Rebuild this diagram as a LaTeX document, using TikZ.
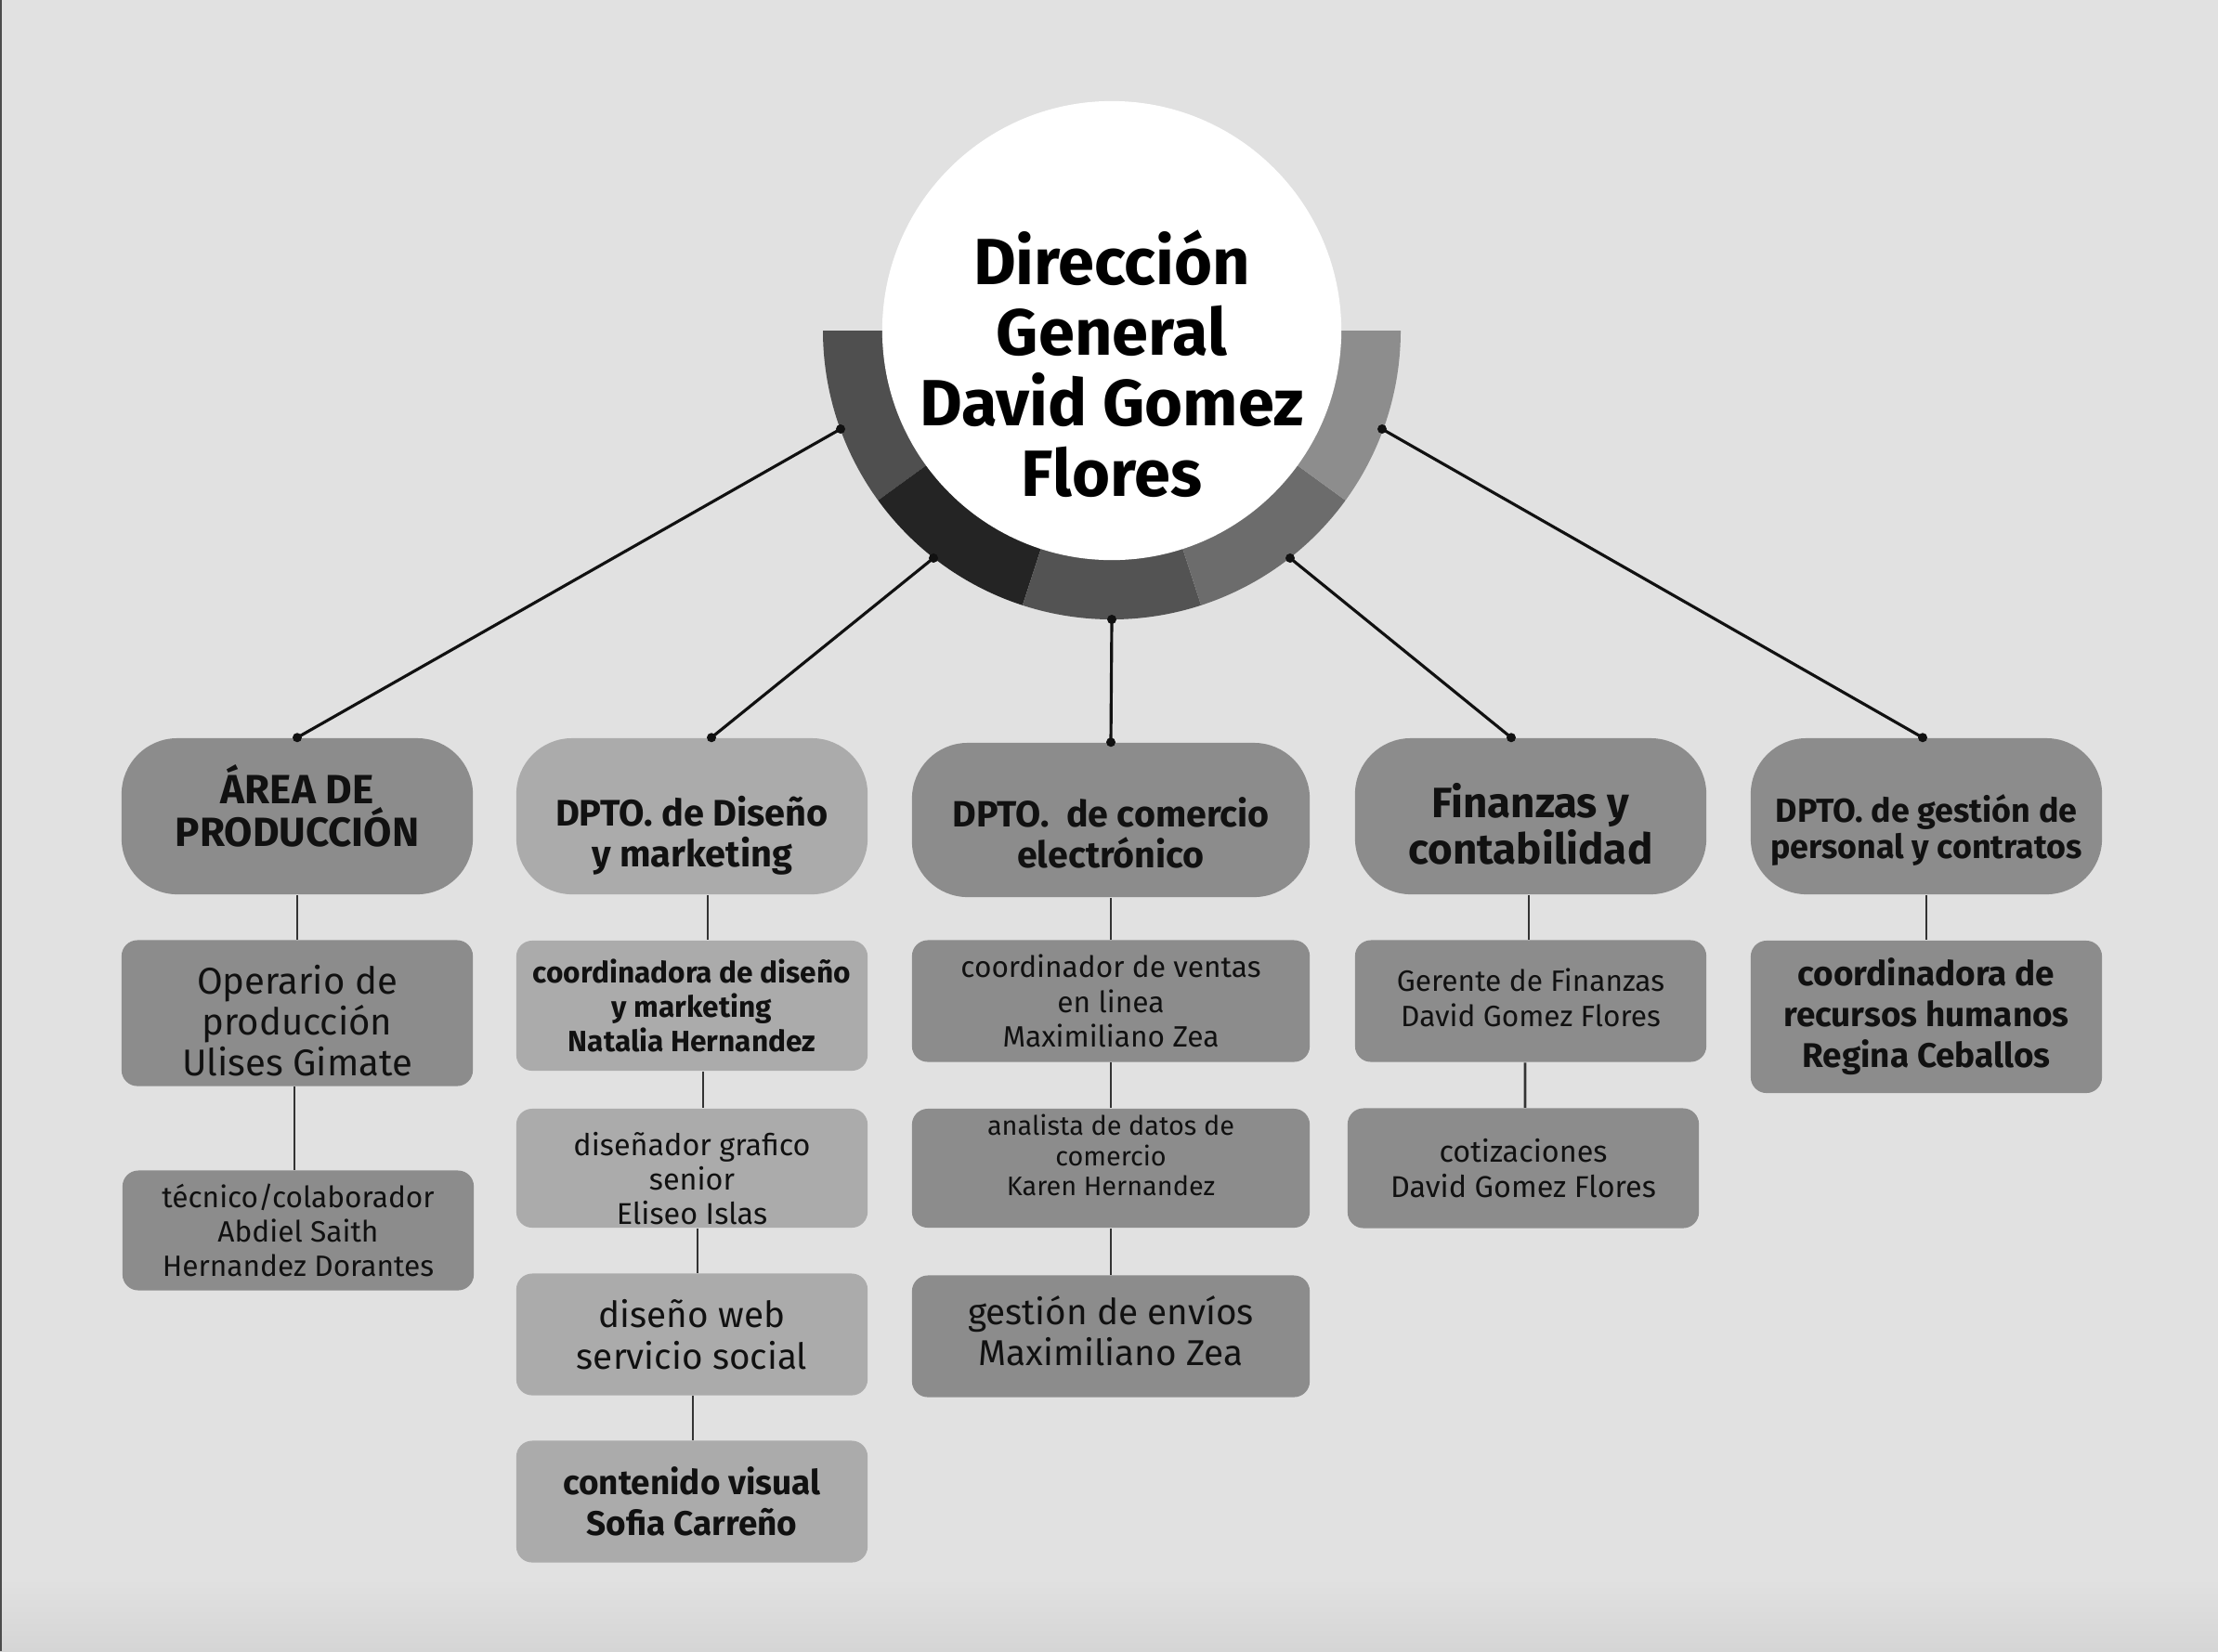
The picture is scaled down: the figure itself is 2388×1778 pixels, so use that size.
\documentclass[tikz,border=0pt]{standalone}
\usepackage{fontspec}
\setmainfont{Fira Sans}
\usetikzlibrary{calc}
\definecolor{bg}{HTML}{E1E1E1}
\definecolor{bgb}{HTML}{D5D5D5}
\definecolor{segA}{HTML}{4F4F4F}
\definecolor{segB}{HTML}{242424}
\definecolor{segC}{HTML}{535353}
\definecolor{segD}{HTML}{6C6C6C}
\definecolor{segE}{HTML}{8D8D8D}
\definecolor{boxM}{HTML}{8C8C8C}
\definecolor{boxL}{HTML}{ABABAB}
\definecolor{ink}{HTML}{111111}
\tikzset{
  dept/.style={rounded corners=0.6cm, minimum width=3.78cm, minimum height=1.68cm, inner sep=0pt},
  subbox/.style={rounded corners=0.17cm, minimum width=3.78cm, inner sep=0pt},
  label/.style={align=center, inner sep=0pt, text=ink},
  link/.style={line width=0.9pt, draw=ink},
  vlink/.style={line width=0.8pt, draw=black!80},
  dotmark/.style={fill=ink},
}
\begin{document}
\begin{tikzpicture}[x=0.01cm,y=-0.01cm]
\useasboundingbox (0,0) rectangle (2388,1778);
\fill[bg] (0,0) rectangle (2388,1778);
\shade[top color=bg, bottom color=bgb] (0,1700) rectangle (2388,1778);
\draw[line width=0.8pt, black!70] (1,0) -- (1,1778);

% ring and circle
\coordinate (C) at (1197,356);
\foreach \a/\b/\c in {180/144/segA,144/108/segB,108/72/segC,72/36/segD,36/0/segE}
  \fill[\c] ($(C)+(\a:311)$) arc[start angle=\a,end angle=\b,radius=311] -- ($(C)+(\b:240)$) arc[start angle=\b,end angle=\a,radius=240] -- cycle;
\node[circle, fill=white, minimum size=4.94cm, inner sep=0pt] (top) at (C) {};
\node[label, font={\fontsize{20}{21.6}\selectfont\bfseries}, text=black] (title) at (1197,392) {Dirección\\General\\David Gomez\\Flores};

% ring anchor points
\coordinate (r1) at (905,462);
\coordinate (r2) at (1005,601);
\coordinate (r3) at (1197,667);
\coordinate (r4) at (1389,601);
\coordinate (r5) at (1488,462);

% departments
\node[dept, fill=boxM] (d1) at (320,879) {};
\node[label, font={\fontsize{12.5}{13.2}\selectfont\bfseries}] (d1t) at ($(d1)+(0,-11)$) {ÁREA DE\\PRODUCCIÓN};
\node[dept, fill=boxL] (d2) at (745,879) {};
\node[label, font={\fontsize{11.3}{12.6}\selectfont\bfseries}] (d2t) at ($(d2)+(0,21)$) {DPTO. de Diseño\\y marketing};
\node[dept, fill=boxM, minimum width=4.28cm, minimum height=1.66cm] (d3) at (1196,883) {};
\node[label, font={\fontsize{11.2}{12.6}\selectfont\bfseries}] (d3t) at ($(d3)+(0,14)$) {DPTO.\ \ de comercio\\electrónico};
\node[dept, fill=boxM] (d4) at (1648,879) {};
\node[label, font={\fontsize{13}{14.3}\selectfont\bfseries}] (d4t) at ($(d4)+(0,8)$) {Finanzas y\\contabilidad};
\node[dept, fill=boxM] (d5) at (2074,879) {};
\node[label, font={\fontsize{10.2}{11.3}\selectfont\bfseries}] (d5t) at ($(d5)+(0,15)$) {DPTO. de gestión de\\personal y contratos};

% sub boxes
\node[subbox, fill=boxM, minimum height=1.57cm] (s11) at (320,1091) {};
\node[label, font={\fontsize{11.4}{12.6}\selectfont}] (s11t) at ($(s11)+(0,8)$) {Operario de\\producción\\Ulises Gimate};
\node[subbox, fill=boxM, minimum height=1.29cm] (s12) at (321,1325) {};
\node[label, font={\fontsize{9}{10.6}\selectfont}] (s12t) at (s12) {técnico/colaborador\\Abdiel Saith\\Hernandez Dorantes};

\node[subbox, fill=boxL, minimum height=1.40cm] (s21) at (745,1083) {};
\node[label, font={\fontsize{9}{10.6}\selectfont\bfseries}] (s21t) at (s21) {coordinadora de diseño\\y marketing\\Natalia Hernandez};
\node[subbox, fill=boxL, minimum height=1.28cm] (s22) at (745,1258) {};
\node[label, font={\fontsize{9.2}{10.6}\selectfont}] (s22t) at ($(s22)+(0,11)$) {diseñador grafico\\senior\\Eliseo Islas};
\node[subbox, fill=boxL, minimum height=1.31cm] (s23) at (745,1437) {};
\node[label, font={\fontsize{11}{12.6}\selectfont}] (s23t) at (s23) {diseño web\\servicio social};
\node[subbox, fill=boxL, minimum height=1.31cm] (s24) at (745,1617) {};
\node[label, font={\fontsize{10.5}{12.6}\selectfont\bfseries}] (s24t) at (s24) {contenido visual\\Sofia Carreño};

\node[subbox, fill=boxM, minimum width=4.28cm, minimum height=1.31cm] (s31) at (1196,1078) {};
\node[label, font={\fontsize{9}{10.6}\selectfont}] (s31t) at (s31) {coordinador de ventas\\en linea\\Maximiliano Zea};
\node[subbox, fill=boxM, minimum width=4.28cm, minimum height=1.28cm] (s32) at (1196,1258) {};
\node[label, font={\fontsize{8.2}{9.3}\selectfont}] (s32t) at ($(s32)+(0,-14)$) {analista de datos de\\comercio\\Karen Hernandez};
\node[subbox, fill=boxM, minimum width=4.28cm, minimum height=1.31cm] (s33) at (1196,1439) {};
\node[label, font={\fontsize{11}{12.4}\selectfont}] (s33t) at ($(s33)+(0,-6)$) {gestión de envíos\\Maximiliano Zea};

\node[subbox, fill=boxM, minimum height=1.31cm] (s41) at (1648,1078) {};
\node[label, font={\fontsize{9}{10.8}\selectfont}] (s41t) at ($(s41)+(0,-4)$) {Gerente de Finanzas\\David Gomez Flores};
\node[subbox, fill=boxM, minimum height=1.29cm] (s42) at (1640,1258) {};
\node[label, font={\fontsize{9.2}{10.8}\selectfont}] (s42t) at (s42) {cotizaciones\\David Gomez Flores};

\node[subbox, fill=boxM, minimum height=1.64cm] (s51) at (2074,1095) {};
\node[label, font={\fontsize{10.5}{12.5}\selectfont\bfseries}] (s51t) at (s51) {coordinadora de\\recursos humanos\\Regina Ceballos};

% top links
\coordinate (t1) at (d1.north);
\coordinate (t2) at ($(d2.north)+(21,0)$);
\coordinate (t3) at (d3.north);
\coordinate (t4) at ($(d4.north)+(-21,0)$);
\coordinate (t5) at ($(d5.north)+(-4,0)$);
\foreach \i in {1,...,5}{
  \draw[link] (r\i) -- (t\i);
  \fill[dotmark] (r\i) circle (5);
  \fill[dotmark] (t\i) circle (5);
}

% vertical links
\draw[vlink] (d1.south) -- (s11.north);
\draw[vlink] ([xshift=-0.03cm]s11.south) -- ([xshift=-0.04cm]s12.north);
\draw[vlink] ([xshift=0.17cm]d2.south) -- ([xshift=0.17cm]s21.north);
\draw[vlink] ([xshift=0.12cm]s21.south) -- ([xshift=0.12cm]s22.north);
\draw[vlink] ([xshift=0.06cm]s22.south) -- ([xshift=0.06cm]s23.north);
\draw[vlink] ([xshift=0.01cm]s23.south) -- ([xshift=0.01cm]s24.north);
\draw[vlink] (d3.south) -- (s31.north);
\draw[vlink] (s31.south) -- (s32.north);
\draw[vlink] (s32.south) -- (s33.north);
\draw[vlink] ([xshift=-0.02cm]d4.south) -- ([xshift=-0.02cm]s41.north);
\draw[vlink] ([xshift=-0.06cm]s41.south) -- ([xshift=0.02cm]s42.north);
\draw[vlink] (d5.south) -- (s51.north);
\end{tikzpicture}
\end{document}
